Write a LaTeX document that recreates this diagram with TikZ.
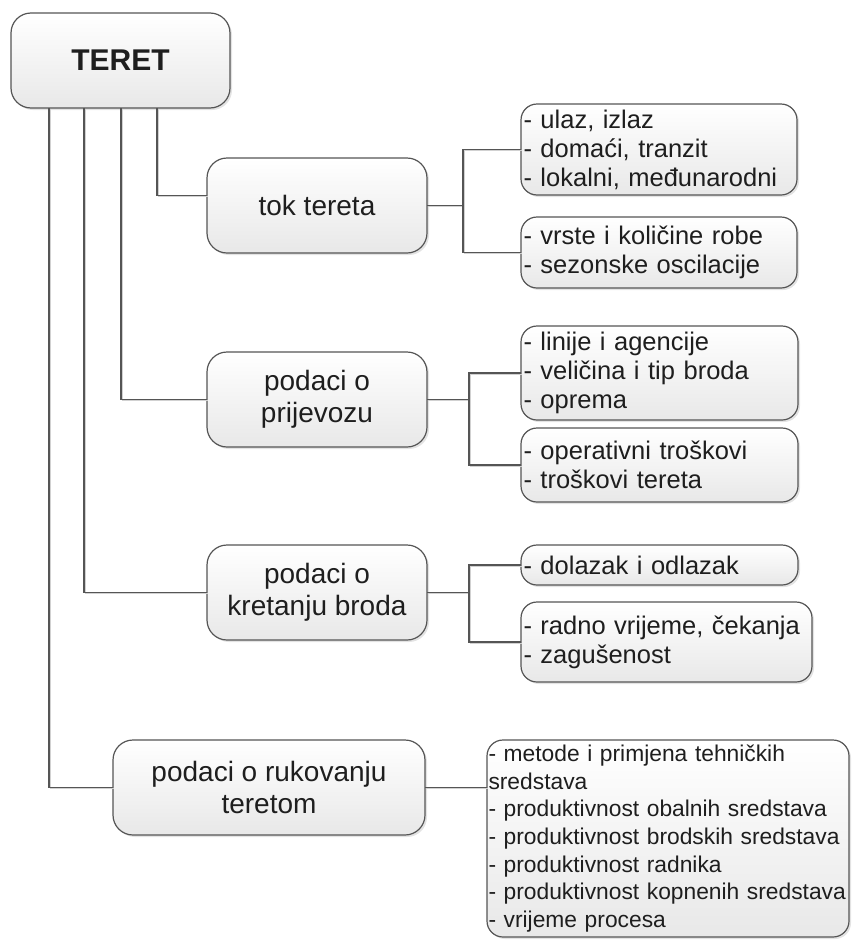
\documentclass[tikz,border=0pt]{standalone}
\usepackage{fontspec}
\setmainfont{Liberation Sans}
\usetikzlibrary{shadows,calc}
\definecolor{edge}{HTML}{555555}
\definecolor{txt}{HTML}{1E1E1E}
\begin{document}
\begin{tikzpicture}[x=1pt,y=-1pt,
  boxbase/.style={draw=edge, line width=1.2pt, top color=white, bottom color=black!9,
    drop shadow={opacity=0.22, shadow xshift=2pt, shadow yshift=-2pt},
    outer sep=0pt, text=txt, anchor=north west},
  mainbox/.style={boxbase, rounded corners=20pt, align=center, inner sep=0pt,
    font=\fontsize{28}{31.5}\selectfont},
  itembox/.style={boxbase, rounded corners=16pt, align=left, inner xsep=2.5pt, inner ysep=0pt,
    font=\fontsize{25.5}{29}\selectfont,
    execute at begin node={\hyphenpenalty=10000 \exhyphenpenalty=10000 }},
  conn/.style={draw=edge, line width=1.3pt,
    preaction={draw=black!18, line width=1.3pt, transform canvas={xshift=1.3pt, yshift=-1.3pt}}}
]
\useasboundingbox (0,0) rectangle (853,940);

% main nodes
\node[mainbox, minimum width=219, minimum height=95, font=\fontsize{30}{34}\selectfont\bfseries] (teret) at (11,13) {TERET};
\node[mainbox, minimum width=220, minimum height=95] (tok) at (207,158) {tok tereta};
\node[mainbox, minimum width=220, minimum height=95] (prij) at (207,352) {podaci o\\prijevozu};
\node[mainbox, minimum width=220, minimum height=95] (kret) at (207,545) {podaci o\\kretanju broda};
\node[mainbox, minimum width=312, minimum height=95] (ruk) at (113,740) {podaci o rukovanju\\teretom};

% item boxes
\node[itembox, text width=271, minimum height=91] (ulaz) at (521,104)
  {- ulaz, izlaz\\- domaći, tranzit\\- lokalni, međunarodni};
\node[itembox, text width=271, minimum height=71] (vrste) at (521,217)
  {- vrste i količine robe\\- sezonske oscilacije};
\node[itembox, text width=272, minimum height=94] (linije) at (521,326)
  {- linije i agencije\\- veličina i tip broda\\- oprema};
\node[itembox, text width=272, minimum height=74] (oper) at (521,428)
  {- operativni troškovi\\- troškovi tereta};
\node[itembox, text width=272, minimum height=40] (dol) at (521,545)
  {- dolazak i odlazak};
\node[itembox, text width=286, minimum height=80] (radno) at (521,602)
  {- radno vrijeme, čekanja\\- zagušenost};
\node[itembox, text width=359, minimum height=197, inner xsep=1.5pt, font=\fontsize{22.8}{27.7}\selectfont] (big) at (487,740)
  {- metode i primjena tehničkih\\sredstava\\- produktivnost obalnih sredstava\\- produktivnost brodskih sredstava\\- produktivnost radnika\\- produktivnost kopnenih sredstava\\- vrijeme procesa};

% junction points
\coordinate (j1) at ([xshift=36pt]tok.east);
\coordinate (j2) at ([xshift=42pt]prij.east);
\coordinate (j3) at ([xshift=42pt]kret.east);

% connectors from TERET
\draw[conn] ([xshift=146pt]teret.south west) |- ([yshift=10pt]tok.west);
\draw[conn] ([xshift=110pt]teret.south west) |- (prij.west);
\draw[conn] ([xshift=73pt]teret.south west) |- (kret.west);
\draw[conn] ([xshift=38pt]teret.south west) |- (ruk.west);

% brackets
\draw[conn] (tok.east) -- (j1);
\draw[conn] (ulaz.west) -| (j1) |- (vrste.west);
\draw[conn] (prij.east) -- (j2);
\draw[conn] (linije.west) -| (j2) |- (oper.west);
\draw[conn] (kret.east) -- (j3);
\draw[conn] (dol.west) -| (j3) |- (radno.west);
\draw[conn] (ruk.east) -- (ruk.east -| big.west);
\end{tikzpicture}
\end{document}
